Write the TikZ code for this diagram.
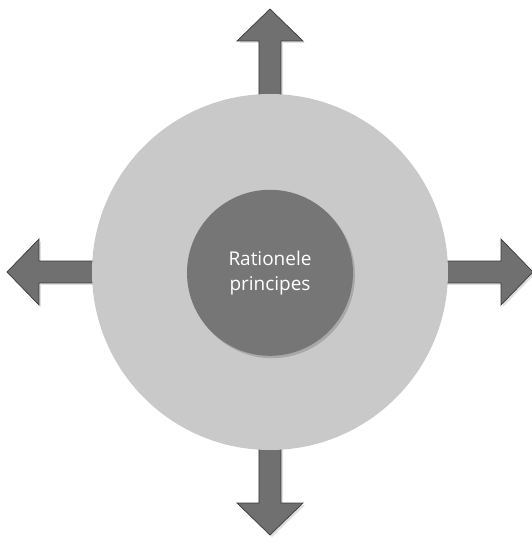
\documentclass[tikz,border=0pt]{standalone}
\usepackage{fontspec}
\setmainfont{Open Sans}
\usetikzlibrary{shadows}
\definecolor{ringgray}{HTML}{C9C9C9}
\definecolor{coregray}{HTML}{767676}
\definecolor{arrowgray}{HTML}{707070}
\definecolor{edgegray}{HTML}{3A3A3A}
\begin{document}
\begin{tikzpicture}[
    ring/.style={circle, fill=ringgray, minimum size=8.9cm, inner sep=0pt},
    core/.style={circle, fill=coregray, minimum size=4.15cm, inner sep=0pt,
                 align=center, font=\fontsize{13.5}{18}\selectfont, text=white,
                 drop shadow={opacity=0.45, shadow xshift=0.05cm, shadow yshift=-0.06cm}},
    arr/.style={fill=arrowgray, draw=edgegray, line width=0.5pt, line join=miter,
                drop shadow={opacity=0.25, shadow xshift=0.05cm, shadow yshift=-0.05cm}}
  ]
    \useasboundingbox (-6.75,-6.65) rectangle (6.525,6.8);
    % --- four arrows out of the ring ---
    \foreach \ang in {0,90,180,270} {
      \draw[arr, rotate=\ang]
        (4.0,-0.275) -- (5.775,-0.275) -- (5.775,-0.825) -- (6.575,0)
        -- (5.775,0.825) -- (5.775,0.275) -- (4.0,0.275) -- cycle;
    }
    % --- ring and core ---
    \node[ring] (disc) at (0,0) {};
    \node[core] (core) at (0,-0.02) {Rationele\\principes};
\end{tikzpicture}
\end{document}
